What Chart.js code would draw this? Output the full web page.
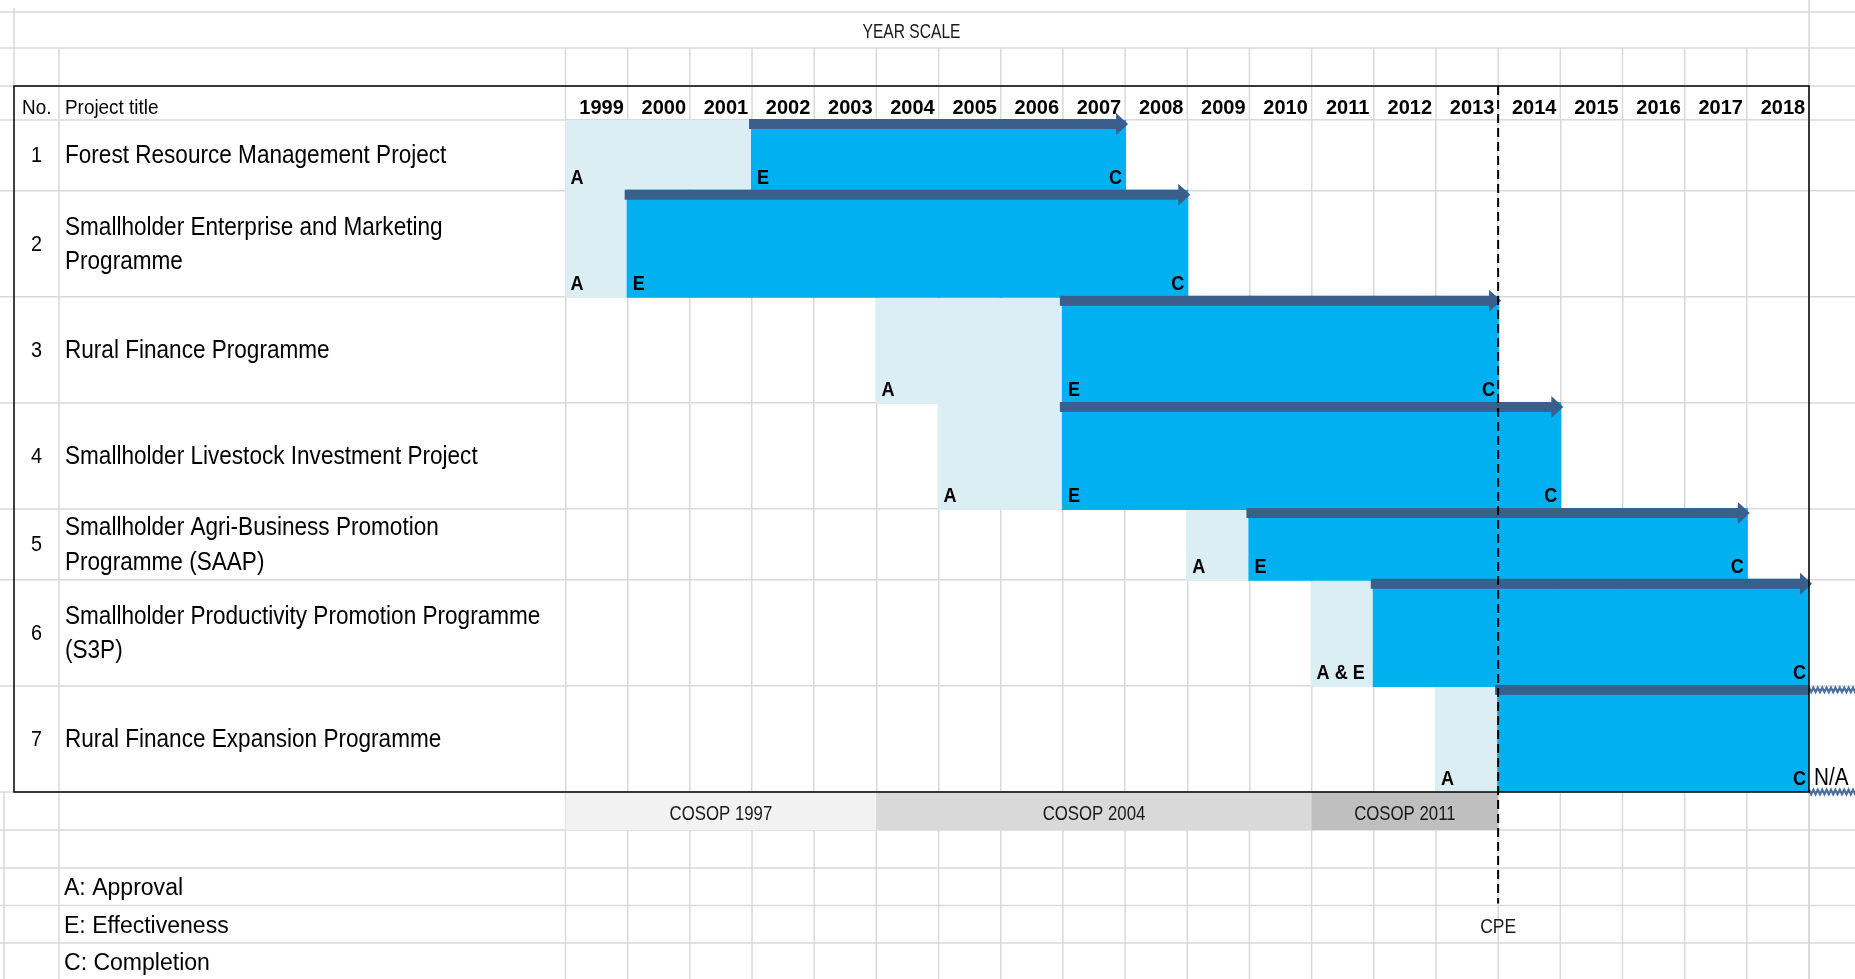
<!DOCTYPE html>
<html>
<head>
<meta charset="utf-8">
<title>Project timeline</title>
<script src="https://cdn.jsdelivr.net/npm/chart.js@4.4.1/dist/chart.umd.min.js"></script>
<style>
  html, body { margin: 0; padding: 0; background: #fff; }
  canvas { display: block; }
</style>
</head>
<body>
<canvas id="gantt" width="1855" height="979"></canvas>
<script>
// ---- data ----
const years = [1999, 2000, 2001, 2002, 2003, 2004, 2005, 2006, 2007, 2008,
               2009, 2010, 2011, 2012, 2013, 2014, 2015, 2016, 2017, 2018];
const projectNo = [1, 2, 3, 4, 5, 6, 7];
const projectTitle = [
  ['Forest Resource Management Project'],
  ['Smallholder Enterprise and Marketing', 'Programme'],
  ['Rural Finance Programme'],
  ['Smallholder Livestock Investment Project'],
  ['Smallholder Agri-Business Promotion', 'Programme (SAAP)'],
  ['Smallholder Productivity Promotion Programme', '(S3P)'],
  ['Rural Finance Expansion Programme']
];
const approvalYear   = [1999, 1999, 2004, 2005, 2009, 2011, 2013];
const startYear      = [2002, 2000, 2007, 2007, 2010, 2012, 2014]; // first year of the blue bar
const completionYear = [2007, 2008, 2013, 2014, 2017, 2018, 2018];
const approvalMark   = ['A', 'A', 'A', 'A', 'A', 'A & E', 'A'];
const effectMark     = ['E', 'E', 'E', 'E', 'E', '', ''];
const completionMark = ['C', 'C', 'C', 'C', 'C', 'C', 'C'];
const completionNote = ['', '', '', '', '', '', 'N/A'];
const cosopLabel = ['COSOP 1997', 'COSOP 2004', 'COSOP 2011'];
const cosopFrom  = [1999, 2004, 2011];
const cosopTo    = [2003, 2010, 2013];
const cpeYear = 2013;
const legendText = ['A: Approval', 'E: Effectiveness', 'C: Completion'];

// ---- layout / style ----
const W = 1855, H = 979;
const rowSpan = [2, 3, 3, 3, 2, 3, 3];      // sheet rows taken by each project
const pad = { left: 565.5, right: 46, top: 86, bottom: 187 };
const headerH = 34;
const tableLeft = 14, noColRight = 59;
const linesAbove = [12, 48];
const linesBelow = [830, 868, 905.5, 943, 981];
const gridColor = '#d9d9d9';
const prepColor = '#DAEEF3', implColor = '#00B0F0', arrowColor = '#3B5F8C';
const cosopColor = ['#F2F2F2', '#D9D9D9', '#BFBFBF'];
const FAM = '"Liberation Sans", Arial, sans-serif';

const rowStart = [];
let acc = 0;
rowSpan.forEach(n => { rowStart.push(acc); acc += n; });
const totalRows = acc;
const rowEdges = [0].concat(rowStart.map((s, i) => s + rowSpan[i]));

// one bar per filled cell
const prepCells = [], implCells = [];
projectNo.forEach((no, p) => {
  years.forEach(yr => {
    const cell = { x: String(yr), y: [rowStart[p], rowStart[p] + rowSpan[p]] };
    if (yr >= approvalYear[p] && yr < startYear[p]) prepCells.push(cell);
    else if (yr >= startYear[p] && yr <= completionYear[p]) implCells.push(cell);
  });
});

function txt(ctx, s, x, y, size, o) {
  o = o || {};
  ctx.save();
  ctx.font = (o.bold ? 'bold ' : '') + size + 'px ' + FAM;
  ctx.textAlign = o.align || 'left';
  ctx.textBaseline = o.base || 'alphabetic';
  ctx.fillStyle = o.color || '#000';
  ctx.translate(x, y);
  ctx.scale(o.sx || 1, 1);
  ctx.fillText(s, 0, 0);
  ctx.restore();
}

function zigzag(ctx, x0, x1, yc) {
  ctx.save();
  ctx.strokeStyle = '#4A6E9E';
  ctx.lineWidth = 2.2;
  ctx.beginPath();
  let up = true;
  for (let xx = x0; xx <= x1 + 3; xx += 2.2) {
    ctx.lineTo(xx, yc + (up ? -2.2 : 2.2));
    up = !up;
  }
  ctx.stroke();
  ctx.restore();
}

const sheet = {
  id: 'sheet',
  beforeDraw(chart) {
    const { ctx, chartArea: a, scales: { x, y } } = chart;
    ctx.save();
    ctx.fillStyle = '#fff';
    ctx.fillRect(0, 0, W, H);
    ctx.strokeStyle = gridColor;
    ctx.lineWidth = 1.5;
    const hl = (yy, x0, x1) => { ctx.beginPath(); ctx.moveTo(x0, yy); ctx.lineTo(x1, yy); ctx.stroke(); };
    const vl = (xx, y0, y1) => { ctx.beginPath(); ctx.moveTo(xx, y0); ctx.lineTo(xx, y1); ctx.stroke(); };
    const edges = [];
    for (let i = 0; i <= years.length; i++) edges.push(x.getPixelForValue(i - 0.5));

    linesAbove.concat([pad.top]).concat(linesBelow).forEach(v => hl(v, 0, W));
    rowEdges.forEach(v => {
      const py = y.getPixelForValue(v);
      hl(py, 0, a.left);
      hl(py, a.right, W);
    });
    vl(a.right, 0, H);
    vl(tableLeft, 8, pad.top);
    vl(4, a.bottom, H);
    vl(noColRight, linesAbove[1], H);
    edges.forEach(e => { vl(e, linesAbove[1], a.top); vl(e, a.bottom, H); });
    ctx.restore();
  },
  afterDatasetsDraw(chart) {
    const { ctx, chartArea: a, scales: { x, y } } = chart;
    const colL = yr => x.getPixelForValue(years.indexOf(yr) - 0.5);
    const colR = yr => x.getPixelForValue(years.indexOf(yr) + 0.5);
    const rowT = p => y.getPixelForValue(rowStart[p]);
    const rowB = p => y.getPixelForValue(rowStart[p] + rowSpan[p]);
    ctx.save();

    // COSOP periods under the table
    cosopLabel.forEach((lab, i) => {
      const x0 = colL(cosopFrom[i]), x1 = colR(cosopTo[i]);
      ctx.fillStyle = cosopColor[i];
      ctx.fillRect(x0, a.bottom, x1 - x0, linesBelow[0] - a.bottom);
      txt(ctx, lab, (x0 + x1) / 2, (a.bottom + linesBelow[0]) / 2 + 3, 21,
          { align: 'center', base: 'middle', sx: 0.8, color: '#1a1a1a' });
    });

    // arrows and A / E / C marks
    projectNo.forEach((no, p) => {
      const x0 = colL(startYear[p]) - 3, x1 = colR(completionYear[p]);
      const t = rowT(p), yc = t + 4;
      const open = completionNote[p] !== '';
      ctx.fillStyle = arrowColor;
      ctx.fillRect(x0, t - 1, (open ? x1 : x1 - 8) - x0, 10);
      if (!open) {
        ctx.beginPath();
        ctx.moveTo(x1 - 9, yc - 11);
        ctx.lineTo(x1 + 3, yc);
        ctx.lineTo(x1 - 9, yc + 11);
        ctx.closePath();
        ctx.fill();
      } else {
        zigzag(ctx, x1, W, yc);
        zigzag(ctx, x1, W, a.bottom);
      }
      const base = rowB(p) - 7;
      const mk = { bold: true, sx: 0.86 };
      txt(ctx, approvalMark[p], colL(approvalYear[p]) + 5, base, 21, mk);
      if (effectMark[p]) txt(ctx, effectMark[p], colL(startYear[p]) + 5, base, 21, mk);
      txt(ctx, completionMark[p], x1 - 3, base, 21, { bold: true, sx: 0.86, align: 'right' });
      if (completionNote[p]) txt(ctx, completionNote[p], x1 + 5, base, 23, { sx: 0.9 });

      // left columns
      const mid = (t + rowB(p)) / 2;
      txt(ctx, String(no), (tableLeft + noColRight) / 2, mid + 1, 22, { align: 'center', base: 'middle', sx: 0.9 });
      const lines = projectTitle[p];
      lines.forEach((s, k) => {
        const ly = mid + 1 + (k - (lines.length - 1) / 2) * 34.5;
        txt(ctx, s, noColRight + 6, ly, 25.5, { base: 'middle', sx: 0.885 });
      });
    });

    // table frame
    ctx.strokeStyle = '#000';
    ctx.lineWidth = 1.5;
    ctx.strokeRect(tableLeft, pad.top, a.right - tableLeft, a.bottom - pad.top);

    // header row
    txt(ctx, 'No.', tableLeft + 8, a.top - 6.5, 21, { sx: 0.9 });
    txt(ctx, 'Project title', noColRight + 6, a.top - 6.5, 21, { sx: 0.9 });
    txt(ctx, 'YEAR SCALE', (tableLeft + a.right) / 2, (linesAbove[0] + linesAbove[1]) / 2 + 3, 19.5,
        { align: 'center', base: 'middle', sx: 0.8, color: '#1a1a1a' });

    // CPE marker
    const cx = colR(cpeYear);
    ctx.setLineDash([9, 5]);
    ctx.lineWidth = 2;
    ctx.beginPath();
    ctx.moveTo(cx, pad.top);
    ctx.lineTo(cx, linesBelow[2] - 2);
    ctx.stroke();
    ctx.setLineDash([]);
    txt(ctx, 'CPE', cx, (linesBelow[2] + linesBelow[3]) / 2 + 3, 21,
        { align: 'center', base: 'middle', sx: 0.83, color: '#1a1a1a' });

    // legend
    legendText.forEach((s, i) => {
      const ly = (linesBelow[i + 1] + linesBelow[i + 2]) / 2 + 2;
      txt(ctx, s, 64, ly, 23.5, { base: 'middle', sx: 0.98 });
    });
    ctx.restore();
  }
};

new Chart(document.getElementById('gantt'), {
  type: 'bar',
  data: {
    labels: years.map(String),
    datasets: [
      { label: 'Implementation', data: implCells, backgroundColor: implColor },
      { label: 'Approval to effectiveness', data: prepCells, backgroundColor: prepColor }
    ]
  },
  options: {
    responsive: false,
    animation: false,
    devicePixelRatio: 1,
    layout: { padding: pad },
    datasets: {
      bar: { grouped: false, barPercentage: 1, categoryPercentage: 1, borderWidth: 0, inflateAmount: 1 }
    },
    plugins: { legend: { display: false }, tooltip: { enabled: false } },
    scales: {
      x: {
        type: 'category',
        position: 'top',
        offset: true,
        grid: { offset: true, color: gridColor, lineWidth: 1.5, drawTicks: false },
        border: { display: false },
        ticks: {
          color: '#000',
          padding: 0,
          labelOffset: 5,
          autoSkip: false,
          maxRotation: 0,
          minRotation: 0,
          font: { family: FAM, size: 20, weight: 'bold' }
        },
        afterFit: s => { s.height = headerH; }
      },
      y: {
        type: 'linear',
        reverse: true,
        min: 0,
        max: totalRows,
        grid: { color: gridColor, lineWidth: 1.5, drawTicks: false },
        border: { display: false },
        ticks: { display: false },
        afterBuildTicks: s => { s.ticks = rowEdges.map(v => ({ value: v })); },
        afterFit: s => { s.width = 0; }
      }
    }
  },
  plugins: [sheet]
});
</script>
</body>
</html>
